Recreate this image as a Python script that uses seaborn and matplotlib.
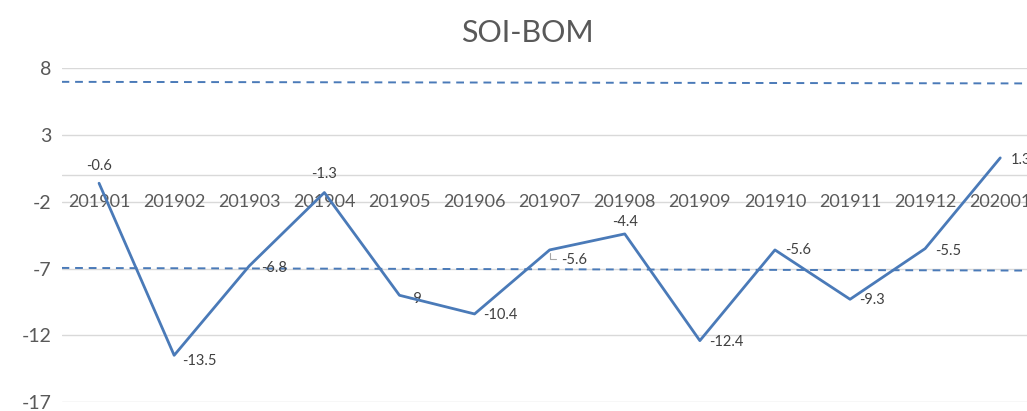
import matplotlib
matplotlib.use("Agg")
import matplotlib.pyplot as plt
import seaborn as sns
import pandas as pd
import numpy as np

categories = ["201901", "201902", "201903", "201904", "201905", "201906", "201907",
              "201908", "201909", "201910", "201911", "201912", "202001"]
soi_values = [-0.6, -13.5, -6.8, -1.3, -9, -10.4, -5.6, -4.4, -12.4, -5.6, -9.3, -5.5, 1.3]
value_labels = ["-0.6", "-13.5", "-6.8", "-1.3", "-9", "-10.4", "-5.6", "-4.4", "-12.4",
                "-5.6", "-9.3", "-5.5", "1.3"]
upper_ref = [7.0, 6.88]    # dashed reference line, left and right ends
lower_ref = [-6.95, -7.15]
y_ticks = [8, 3, -2, -7, -12, -17]

sns.set_theme(style="white")
plt.rcParams["font.family"] = ["Lato", "DejaVu Sans"]

W, H = 1027, 411
fig = plt.figure(figsize=(W / 100, H / 100), dpi=100)
left = 61.5 / W
width = 13 * 75.1 / W
bottom = 1 - 402 / H
top = 1 - 68.5 / H
ax = fig.add_axes([left, bottom, width, top - bottom])

line_color = "#4a7ab8"
df = pd.DataFrame({"pos": np.arange(len(categories)), "value": soi_values})

# gridlines
for t in y_ticks:
    ax.axhline(t, color="#d9d9d9", lw=1.0, zorder=0)
ax.axhline(0, color="#d9d9d9", lw=1.0, zorder=0)

# dashed reference lines across full plot width
ax.plot([-0.5, 12.5], upper_ref, color=line_color, lw=1.4, ls=(0, (4, 3)), zorder=1)
ax.plot([-0.5, 12.5], lower_ref, color=line_color, lw=1.4, ls=(0, (4, 3)), zorder=1)

sns.lineplot(data=df, x="pos", y="value", color=line_color, lw=2.0, ax=ax, zorder=3)

# data labels (offsets in pixels)
offsets = [(0, 17, "center"), (8, -6, "left"), (12, -2, "left"), (0, 19, "center"),
           (9, -4, "left"), (9, -1, "left"), (11, -10, "left"), (0, 12, "center"),
           (9, -1, "left"), (10, 0, "left"), (9, -1, "left"), (10, -2, "left"),
           (11, -2, "left")]
for i, (v, lab) in enumerate(zip(soi_values, value_labels)):
    dx, dy, ha = offsets[i]
    ax.annotate(lab, (i, v), xytext=(dx, dy), textcoords="offset pixels",
                ha=ha, va="center", fontsize=10.5, color="#404040", zorder=2)

# small leader line for the 201907 label
ax.annotate("", (6, soi_values[6]), xytext=(9, -9), textcoords="offset pixels",
            arrowprops=dict(arrowstyle="-", color="#a6a6a6", lw=0.8,
                            connectionstyle="angle,angleA=0,angleB=90,rad=0"),
            zorder=2)

# category labels below the zero axis
for i, c in enumerate(categories):
    ax.annotate(c, (i, 0), xytext=(0, -27), textcoords="offset pixels",
                ha="center", va="center", fontsize=13, color="#595959", zorder=2)

ax.set_xlim(-0.5, 12.5)
ax.set_ylim(-17, 8)
ax.set_yticks(y_ticks)
ax.set_yticklabels([str(t) for t in y_ticks], fontsize=14, color="#595959")
ax.set_xticks([])
ax.tick_params(axis="y", length=0, pad=7)
for s in ax.spines.values():
    s.set_visible(False)
ax.set_xlabel("")
ax.set_ylabel("")
ax.patch.set_alpha(0)

fig.text(527 / W, 1 - 33 / H, "SOI-BOM", ha="center", va="center",
         fontsize=22, color="#595959")

fig.savefig("out.png", dpi=100, facecolor="white")
